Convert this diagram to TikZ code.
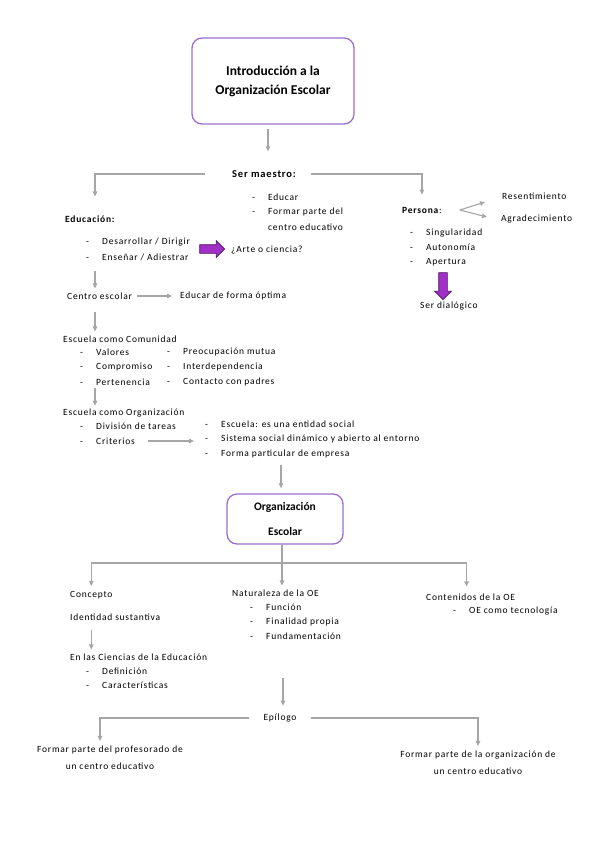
\documentclass[tikz,border=0pt]{standalone}
\usepackage{fontspec}
\setmainfont{Carlito}[LetterSpace=8]
\newfontfamily\titlefont{Carlito}
\usetikzlibrary{positioning, arrows.meta, shapes.arrows}
\definecolor{lila}{HTML}{9B6FCB}
\definecolor{gris}{HTML}{A6A6A6}
\definecolor{violeta}{HTML}{A22FC6}
\definecolor{borde}{HTML}{4B1466}
\newcommand{\guion}{\makebox[16pt][l]{-}}

\begin{document}
\begin{tikzpicture}[x=1pt, y=-1pt,
  caja/.style={draw=lila, line width=1.3pt, rounded corners=10pt, fill=white,
               align=center, font=\titlefont\bfseries},
  txt/.style={anchor=west, inner sep=0pt, font=\fontsize{9.5}{11}\selectfont},
  tit/.style={txt, font=\fontsize{9.5}{11}\selectfont\bfseries},
  garrow/.style={draw=gris, line width=1.1pt, -{Triangle[length=5pt,width=4.5pt]}},
  gline/.style={draw=gris, line width=1.1pt},
  flecha/.style={single arrow, draw=borde, fill=violeta, line width=0.7pt,
                 minimum height=25pt, inner sep=4pt, single arrow head extend=4pt},
]
\useasboundingbox (0,0) rectangle (599,848);

% cabecera
\node[caja, minimum width=162pt, minimum height=86pt, font=\titlefont\bfseries\fontsize{13.5}{19}\selectfont]
  (title) at (273,81) {Introducción a la\\Organización Escolar};
\node[tit, font=\fontsize{10.5}{12}\selectfont\bfseries] (ser) at (232,174) {Ser maestro:};
\node[txt] (educar) at (252,197) {\guion Educar};
\node[txt] (formar) at (252,212) {\guion Formar parte del};
\node[txt] (centroed) at (268,227) {centro educativo};

% educacion
\coordinate (eje) at (95,0);
\node[tit] (edu) at (65,219) {Educación:};
\node[txt] (des) at (86,242) {\guion Desarrollar / Dirigir};
\node[txt] (ens) at (86,257) {\guion Enseñar / Adiestrar};
\node[flecha] (fl1) at (210,249) {};
\node[txt] (arte) at (231,250) {¿Arte o ciencia?};

% persona
\node[txt] (pers) at (402,210) {\textbf{Persona}:};
\node[txt] (res) at (502,196) {Resentimiento};
\node[txt] (agr) at (501,219) {Agradecimiento};
\node[txt] (sing) at (410,233) {\guion Singularidad};
\node[txt] (auto) at (410,247) {\guion Autonomía};
\node[txt] (aper) at (410,262) {\guion Apertura};
\node[flecha, shape border rotate=270, minimum height=27pt] (fl2) at (443,284) {};
\node[txt] (dial) at (420,306) {Ser dialógico};

% centro y escuela
\node[txt] (centro) at (67,296) {Centro escolar};
\node[txt] (optima) at (180,296) {Educar de forma óptima};
\node[txt] (comu) at (63,339) {Escuela como Comunidad};
\node[txt] (val) at (80,352) {\guion Valores};
\node[txt] (comp) at (80,367) {\guion Compromiso};
\node[txt] (pert) at (80,382) {\guion Pertenencia};
\node[txt] (preo) at (167,352) {\guion Preocupación mutua};
\node[txt] (inter) at (167,367) {\guion Interdependencia};
\node[txt] (padres) at (167,382) {\guion Contacto con padres};
\node[txt] (orgz) at (63,413) {Escuela como Organización};
\node[txt] (div) at (80,426) {\guion División de tareas};
\node[txt] (crit) at (80,441) {\guion Criterios};
\node[txt] (ent) at (205,424) {\guion Escuela: es una entidad social};
\node[txt] (sist) at (205,439) {\guion Sistema social dinámico y abierto al entorno};
\node[txt] (forma) at (205,454) {\guion Forma particular de empresa};

% organizacion escolar
\node[caja, minimum width=116pt, minimum height=50pt, font=\titlefont\bfseries\fontsize{11.5}{25}\selectfont]
  (oe) at (285,519) {Organización\\Escolar};
\coordinate (rama) at (282,563);
\node[txt] (conc) at (70,595) {Concepto};
\node[txt] (iden) at (70,617) {Identidad sustantiva};
\node[txt] (cien) at (70,657) {En las Ciencias de la Educación};
\node[txt] (def) at (86,671) {\guion Definición};
\node[txt] (car) at (86,685) {\guion Características};
\node[txt] (nat) at (232,593) {Naturaleza de la OE};
\node[txt] (fun) at (250,607) {\guion Función};
\node[txt] (fin) at (250,622) {\guion Finalidad propia};
\node[txt] (fund) at (250,636) {\guion Fundamentación};
\node[txt] (cont) at (426,597) {Contenidos de la OE};
\node[txt] (tec) at (453,611) {\guion OE como tecnología};

% epilogo
\node[txt, anchor=center] (epi) at (280,718) {Epílogo};
\node[txt, anchor=center, align=center, font=\fontsize{9.5}{17}\selectfont] (prof) at (110,758)
  {Formar parte del profesorado de\\un centro educativo};
\node[txt, anchor=center, align=center, font=\fontsize{9.5}{17}\selectfont] (orga) at (478,763)
  {Formar parte de la organización de\\un centro educativo};

% conectores
\draw[garrow, shorten <=4pt, shorten >=19pt] ([xshift=-5pt]title.south) -- ([xshift=-5pt]title.south |- ser.north);
\draw[garrow] ([xshift=-27pt]ser.west) -| ([yshift=19pt]eje |- edu.north);
\draw[garrow] ([xshift=15pt]ser.east) -| ([yshift=12pt]pers.north);
\draw[garrow] ([xshift=18pt]pers.east) -- ([xshift=-17pt,yshift=-6pt]res.west);
\draw[garrow] ([xshift=18pt]pers.east) -- ([xshift=-14pt,yshift=2pt]agr.west);
\draw[garrow, shorten <=10pt, shorten >=4pt] (eje |- ens.south) -- (eje |- centro.north);
\draw[garrow, shorten <=5pt, shorten >=8pt] (centro.east) -- (optima.west);
\draw[garrow, shorten <=12pt, shorten >=4pt] (eje |- centro.south) -- (eje |- comu.north);
\draw[garrow, shorten <=2pt, shorten >=3pt] (eje |- pert.south) -- (eje |- orgz.north);
\draw[garrow, shorten <=13pt, shorten >=11pt] (crit.east) -- (sist.west |- crit.east);
\draw[garrow, shorten <=7pt, shorten >=5pt] ([xshift=-4pt]oe.north |- forma.south) -- ([xshift=-4pt]oe.north);
\draw[gline] ([xshift=-3pt]oe.south) -- (rama);
\draw[garrow] (rama) -| ([yshift=5pt]conc.north);
\draw[garrow] (rama) -- ([yshift=4pt]rama |- nat.north);
\draw[garrow] (rama) -| ([xshift=-4pt,yshift=7pt]cont.north);
\draw[garrow, shorten <=9pt, shorten >=4pt] (conc.south |- iden.south) -- (conc.south |- cien.north);
\draw[garrow, shorten <=38pt, shorten >=8pt] ([xshift=3pt]epi.north |- fund.south) -- ([xshift=3pt]epi.north);
\draw[garrow] ([xshift=-14pt]epi.west) -| ([xshift=-10pt,yshift=5pt]prof.north);
\draw[garrow] ([xshift=14pt]epi.east) -| ([yshift=5pt]orga.north);
\end{tikzpicture}
\end{document}
